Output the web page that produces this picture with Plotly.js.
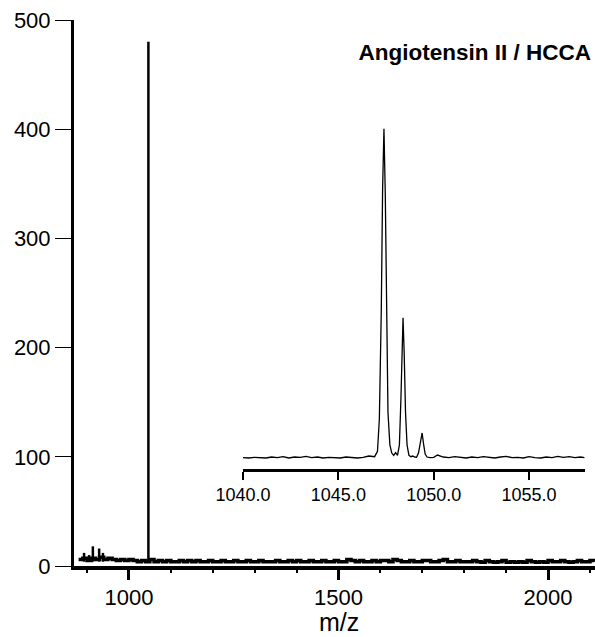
<!DOCTYPE html>
<html>
<head>
<meta charset="utf-8">
<script src="https://cdn.plot.ly/plotly-3.0.1.min.js"></script>
<style>html,body{margin:0;padding:0;background:#fff;}#chart{width:595px;height:637px;}</style>
</head>
<body>
<div id="chart"></div>
<script>
// ---- Main spectrum data ----
const titleText = "Angiotensin II / HCCA";
const xAxisTitle = "m/z";
const noiseStart = 880;   // m/z of first noise sample
const noiseStep = 10;     // m/z spacing of noise samples
const noiseIntensity = [
  6, 7, 5, 7, 6, 8, 6, 7, 6, 5, 6, 5, 6,
  5, 4, 5, 4, 6, 4, 5, 4, 5, 4, 4, 5, 4, 5, 4, 5, 4, 4, 5, 4,
  4, 5, 4, 4, 5, 4, 4, 5, 4, 4, 5, 4, 4, 4, 5, 4, 4, 5, 4, 5, 4, 4, 5, 4, 4, 5, 4, 4, 5, 4,
  4, 6, 5, 4, 5, 4, 4, 5, 4, 5, 5, 4, 6, 5, 4, 4, 5, 4, 4, 5, 5, 4, 4, 5, 6, 4, 4, 5, 4, 4,
  4, 5, 4, 3.5, 5, 4, 3.5, 4, 5, 3.5, 4, 3.5, 4, 3.5, 5, 4, 3.5, 4, 3.5, 5, 4, 4, 5, 4, 3.5, 4, 5, 4, 4, 5, 4
];
const baselineLevel = 4;
const peakMz = [893, 905, 914, 929, 938, 1046.5];
const peakIntensity = [12, 10, 18, 16, 12, 480];
const mainXTicks = [1000, 1500, 2000];
const mainYTicks = [0, 100, 200, 300, 400, 500];

// ---- Inset (zoom on the molecular ion) ----
const insetMz = [1040.0,1040.3,1040.6,1040.9,1041.2,1041.5,1041.8,1042.1,1042.4,1042.7,1043.0,1043.3,1043.6,1043.9,1044.2,1044.5,1044.8,1045.1,1045.4,1045.7,1046.0,1046.3,1046.6,1046.9,
  1047.05,1047.15,1047.25,1047.32,1047.39,1047.46,1047.53,1047.6,1047.7,1047.8,1047.9,
  1048.0,1048.1,1048.2,1048.28,1048.34,1048.39,1048.45,1048.52,1048.6,1048.7,1048.8,1048.9,
  1049.0,1049.1,1049.2,1049.3,1049.39,1049.46,1049.55,1049.65,1049.8,
  1050.0,1050.2,1050.5,1050.8,
  1051.1,1051.4,1051.7,1052.0,1052.3,1052.6,1052.9,1053.2,1053.5,1053.8,1054.1,1054.4,1054.7,1055.0,1055.3,1055.6,1055.9,1056.2,1056.5,1056.8,1057.1,1057.4,1057.7,1057.9];
const insetIntensity = [0.1,0.0,0.2,0.1,0.0,0.3,0.1,0.4,0.0,0.3,0.2,0.5,0.1,0.3,0.0,0.2,0.1,0.0,0.3,0.1,0.0,0.2,0.6,0.4,
  2,12,45,82,100,80,40,14,4,1.5,0.8,
  1.6,0.8,4,18,34,42.6,32,14,4,0.8,0.4,0.6,
  0.3,0.2,1.5,5,7.6,4.5,1.2,0.3,0.1,
  0.2,0.9,0.3,0.1,
  0.4,0.2,0.0,0.3,0.1,0.4,0.2,0.0,0.3,0.5,0.1,0.2,0.0,0.4,0.1,0.0,0.3,0.1,0.5,0.2,0.4,0.1,0.3,0.1];
const insetTicks = [1040, 1045, 1050, 1055];

// ---- Build traces ----
const noiseMz = noiseIntensity.map((_, i) => noiseStart + i * noiseStep);
const stickX = [], stickY = [];
peakMz.forEach((m, i) => { stickX.push(m, m, null); stickY.push(baselineLevel, peakIntensity[i], null); });

const FONT = "Liberation Sans, Arial, Helvetica, sans-serif";
const X_RANGE = [869, 2112];

const traces = [
  { x: noiseMz, y: noiseIntensity, type: 'scatter', mode: 'lines',
    line: { color: '#000', width: 3.5, shape: 'hv' }, xaxis: 'x', yaxis: 'y', hoverinfo: 'skip' },
  { x: stickX, y: stickY, type: 'scatter', mode: 'lines',
    line: { color: '#000', width: 2.5 }, xaxis: 'x', yaxis: 'y', hoverinfo: 'skip' },
  { x: insetMz, y: insetIntensity, type: 'scatter', mode: 'lines',
    line: { color: '#000', width: 1.3 }, xaxis: 'x2', yaxis: 'y2', hoverinfo: 'skip' },
  // empty trace so the overlaying tick-mark axis is drawn
  { x: [], y: [], type: 'scatter', mode: 'lines', xaxis: 'x3', yaxis: 'y', hoverinfo: 'skip' }
];

const layout = {
  width: 595, height: 637,
  margin: { l: 74, r: 0, t: 20, b: 71, pad: 0 },
  paper_bgcolor: '#fff', plot_bgcolor: '#fff',
  showlegend: false,
  font: { family: FONT, color: '#000' },
  title: { text: '<b>' + titleText + '</b>', font: { family: FONT, size: 22.5, color: '#000' },
           x: 591 / 595, xanchor: 'right', xref: 'container', y: 1 - 52 / 637, yanchor: 'middle', yref: 'container' },
  // main x axis: line, minor ticks, labels (major ticks invisible, used as label spacer)
  xaxis: {
    domain: [0, 1], range: X_RANGE, anchor: 'y',
    showline: true, linewidth: 4, linecolor: '#000', mirror: false,
    showgrid: false, zeroline: false,
    ticks: 'outside', ticklen: 9, tickwidth: 3, tickcolor: 'rgba(0,0,0,0)',
    tickvals: mainXTicks, ticktext: mainXTicks.map(String),
    tickfont: { family: FONT, size: 22, color: '#000' },
    minor: { dtick: 100, tick0: 0, ticks: 'outside', ticklen: 3, tickwidth: 2, tickcolor: '#000', showgrid: false }
  },
  // overlay axis that draws the visible major tick marks
  xaxis3: {
    overlaying: 'x', anchor: 'y', side: 'bottom', range: X_RANGE,
    showline: true, linewidth: 4, linecolor: '#000',
    showgrid: false, zeroline: false, showticklabels: false,
    ticks: 'outside', ticklen: 10, tickwidth: 3, tickcolor: '#000',
    tickvals: mainXTicks
  },
  yaxis: {
    domain: [0, 1], range: [0, 500], anchor: 'x',
    showline: true, linewidth: 3, linecolor: '#000',
    showgrid: false, zeroline: false,
    ticks: 'outside', ticklen: 16, tickwidth: 1, tickcolor: '#000',
    tickvals: mainYTicks, ticktext: mainYTicks.map(String),
    tickfont: { family: FONT, size: 22, color: '#000' }
  },
  xaxis2: {
    domain: [(243 - 74) / 521, (585 - 74) / 521], range: [1040, 1057.93], anchor: 'y2',
    showline: true, linewidth: 3, linecolor: '#000',
    showgrid: false, zeroline: false,
    ticks: 'outside', ticklen: 8, tickwidth: 2, tickcolor: '#000',
    tickvals: insetTicks, ticktext: insetTicks.map(v => v.toFixed(1)),
    tickfont: { family: FONT, size: 18, color: '#000' }
  },
  yaxis2: {
    domain: [(566 - 468.5) / 546, (566 - 119) / 546], range: [-3.19, 103.0], anchor: 'x2',
    visible: false, showgrid: false, zeroline: false
  },
  annotations: [
    { text: xAxisTitle, xref: 'paper', yref: 'paper', x: (339 - 74) / 521, y: (566 - 636.5) / 546,
      xanchor: 'center', yanchor: 'bottom', showarrow: false, borderpad: 0,
      font: { family: FONT, size: 25, color: '#000' } }
  ]
};

Plotly.newPlot('chart', traces, layout, { staticPlot: true, displayModeBar: false });
</script>
</body>
</html>
